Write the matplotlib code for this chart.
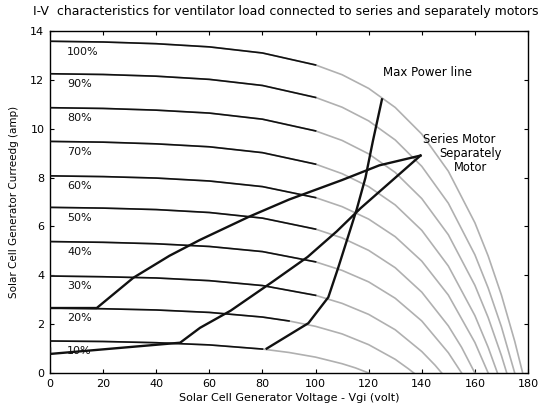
import matplotlib
matplotlib.use("Agg")
import matplotlib.pyplot as plt
import numpy as np

plt.rcParams['font.family'] = ['DejaVu Sans']

# ---------------- data ----------------
levels = ["10%", "20%", "30%", "40%", "50%", "60%", "70%", "80%", "90%", "100%"]

v10 = [0, 20, 40, 60, 80, 90, 100, 110, 115, 120]
i10 = [1.31, 1.29, 1.24, 1.15, 0.98, 0.84, 0.65, 0.38, 0.21, 0.0]

v20 = [0, 20, 40, 60, 80, 90, 100, 110, 120, 130, 135, 137]
i20 = [2.66, 2.63, 2.58, 2.48, 2.29, 2.13, 1.91, 1.60, 1.16, 0.56, 0.17, 0.0]

v30 = [0, 20, 40, 60, 80, 100, 110, 120, 130, 140, 145, 147.5]
i30 = [3.97, 3.94, 3.89, 3.78, 3.58, 3.18, 2.85, 2.40, 1.77, 0.88, 0.32, 0.0]

v40 = [0, 20, 40, 60, 80, 100, 110, 120, 130, 140, 150, 155]
i40 = [5.38, 5.35, 5.29, 5.18, 4.97, 4.55, 4.20, 3.73, 3.06, 2.13, 0.83, 0.0]

v50 = [0, 20, 40, 60, 80, 100, 110, 120, 130, 140, 150, 155, 160]
i50 = [6.78, 6.75, 6.69, 6.57, 6.34, 5.89, 5.53, 5.02, 4.31, 3.31, 1.93, 1.05, 0.0]

v60 = [0, 20, 40, 60, 80, 100, 110, 120, 130, 140, 150, 160, 165]
i60 = [8.07, 8.04, 7.98, 7.86, 7.63, 7.18, 6.81, 6.30, 5.58, 4.58, 3.19, 1.25, 0.0]

v70 = [0, 20, 40, 60, 80, 100, 110, 120, 130, 140, 150, 160, 165, 168.5]
i70 = [9.48, 9.45, 9.38, 9.26, 9.02, 8.55, 8.16, 7.63, 6.88, 5.84, 4.38, 2.35, 1.05, 0.0]

v80 = [0, 20, 40, 60, 80, 100, 110, 120, 130, 140, 150, 160, 165, 170, 172]
i80 = [10.86, 10.83, 10.76, 10.64, 10.39, 9.91, 9.52, 8.97, 8.21, 7.14, 5.66, 3.59, 2.27, 0.71, 0.0]

v90 = [0, 20, 40, 60, 80, 100, 110, 120, 130, 140, 150, 160, 165, 170, 175]
i90 = [12.25, 12.22, 12.15, 12.02, 11.77, 11.28, 10.88, 10.32, 9.54, 8.46, 6.95, 4.84, 3.48, 1.89, 0.0]

v100 = [0, 20, 40, 60, 80, 100, 110, 120, 130, 140, 150, 160, 165, 170, 175, 178]
i100 = [13.58, 13.55, 13.48, 13.35, 13.10, 12.61, 12.21, 11.65, 10.87, 9.78, 8.26, 6.15, 4.79, 3.19, 1.30, 0.0]

series_v = [0, 17.6, 31.4, 45, 56.5, 75, 90, 110, 124, 139.5]
series_i = [2.66, 2.66, 3.9, 4.8, 5.45, 6.4, 7.1, 7.9, 8.5, 8.9]

sep_v = [0, 0, 49, 56.5, 68, 84, 97, 108, 117, 128, 139.5]
sep_i = [1.0, 0.78, 1.24, 1.85, 2.55, 3.75, 4.75, 5.8, 6.75, 7.8, 8.9]

mpp_v = [81.6, 97.3, 104.8, 108.5, 112, 115.5, 118.8, 121.6, 125]
mpp_i = [1.0, 2.04, 3.1, 4.3, 5.5, 6.7, 8.0, 9.5, 11.2]

title = "I-V  characteristics for ventilator load connected to series and separately motors"
xlabel = "Solar Cell Generator Voltage - Vgi (volt)"
ylabel = "Solar Cell Generator Curreedg (amp)"
xticks = [0, 20, 40, 60, 80, 100, 120, 140, 160, 180]
yticks = [0, 2, 4, 6, 8, 10, 12, 14]

curves_v = [v10, v20, v30, v40, v50, v60, v70, v80, v90, v100]
curves_i = [i10, i20, i30, i40, i50, i60, i70, i80, i90, i100]
black_until = [82, 98, 100, 100, 100, 100, 100, 100, 100, 100]

# ---------------- figure ----------------
fig = plt.figure(figsize=(5.41, 4.12), dpi=100)
ax = fig.add_axes([50/541, 1-373/412, (528-50)/541, (373-31)/412])

for vv, ii, lab, lim in zip(curves_v, curves_i, levels, black_until):
    vv = np.array(vv, float); ii = np.array(ii, float)
    ax.plot(vv, ii, color='#b0b0b0', lw=1.2, zorder=2)
    m = vv <= lim
    ax.plot(vv[m], ii[m], color='#111111', lw=1.2, zorder=3)
    ax.text(6.5, ii[0] - 0.42, lab, fontsize=8, ha='left', va='center', color='#111111')

ax.plot(series_v, series_i, color='#111111', lw=1.7, zorder=4)
ax.plot(sep_v, sep_i, color='#111111', lw=1.7, zorder=4)
ax.plot(mpp_v, mpp_i, color='#111111', lw=1.7, zorder=4)

ax.text(125.5, 12.3, "Max Power line", fontsize=8.5, ha='left', va='center')
ax.text(140.5, 9.55, "Series Motor", fontsize=8.3, ha='left', va='center')
ax.text(158.5, 8.7, "Separately\nMotor", fontsize=8.3, ha='center', va='center', linespacing=1.1)

ax.set_xlim(0, 180)
ax.set_ylim(0, 14)
ax.set_xticks(xticks)
ax.set_yticks(yticks)
ax.tick_params(axis='both', which='both', direction='in', length=3, width=0.8,
               top=True, right=True, labelsize=8, pad=4)
for s in ax.spines.values():
    s.set_linewidth(1.0)
ax.set_xlabel(xlabel, fontsize=8, labelpad=3)
ax.set_ylabel(ylabel, fontsize=7.5, labelpad=8)

fig.text(33/541, 1-12/412, title, fontsize=9.0, ha='left', va='center')

fig.savefig("out.png", dpi=100)
